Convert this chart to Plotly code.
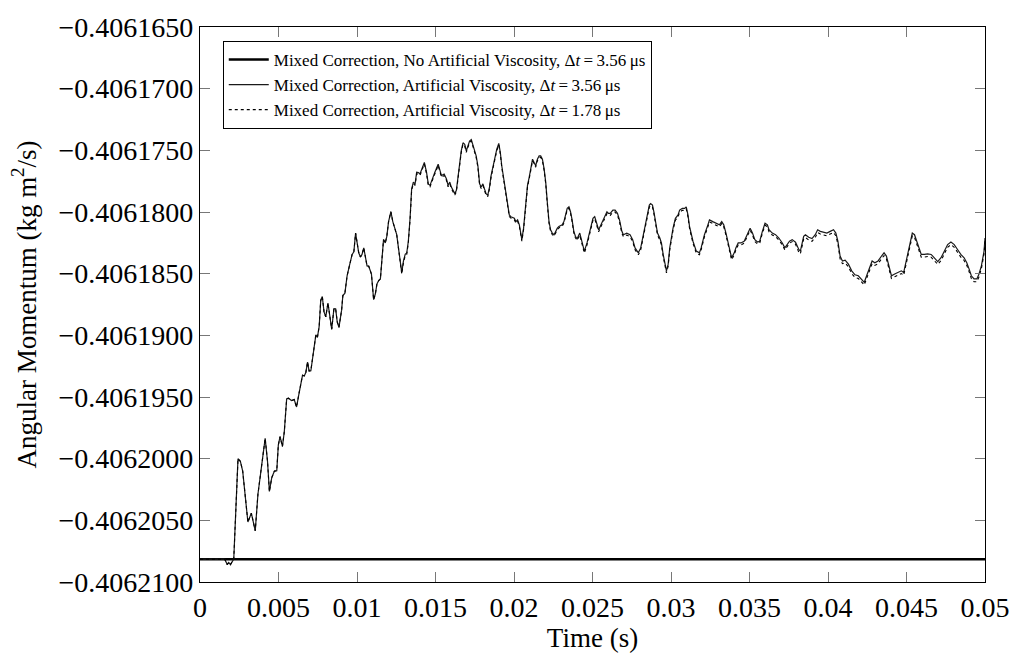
import plotly.graph_objects as go

# ---------------- data ----------------
time_s = [
    0.0, 0.00158,
    0.00173, 0.00183, 0.00194, 0.00204, 0.00215, 0.00242, 0.00257, 0.00272, 0.00289, 0.00305,
    0.00327, 0.00341, 0.00352, 0.00369, 0.00384, 0.00398, 0.00415, 0.00430, 0.00442, 0.00457,
    0.00474, 0.00489, 0.00499, 0.00510, 0.00525, 0.00537, 0.00552, 0.00563, 0.00583, 0.00600,
    0.00615, 0.00632, 0.00643, 0.00653, 0.00664, 0.00674, 0.00685, 0.00695, 0.00706, 0.00716,
    0.00727, 0.00738, 0.00748, 0.00759, 0.00769, 0.00779, 0.00790, 0.00801, 0.00815, 0.00826,
    0.00839, 0.00853, 0.00864, 0.00874, 0.00885, 0.00902, 0.00910, 0.00923, 0.00937, 0.00953,
    0.00969, 0.00980, 0.00991, 0.01001, 0.01011, 0.01022, 0.01032, 0.01043, 0.01054, 0.01064,
    0.01075, 0.01092, 0.01106, 0.01117, 0.01127, 0.01138, 0.01149, 0.01159, 0.01169, 0.01180,
    0.01190, 0.01201, 0.01216, 0.01228, 0.01239, 0.01253, 0.01264,
    0.01285, 0.01296, 0.01307, 0.01317, 0.01327, 0.01338, 0.01348, 0.01359, 0.01370, 0.01380,
    0.01391, 0.01401, 0.01412, 0.01429, 0.01443, 0.01454, 0.01465, 0.01475, 0.01496, 0.01517,
    0.01528, 0.01538, 0.01555, 0.01570, 0.01580, 0.01591, 0.01601, 0.01612, 0.01623, 0.01633,
    0.01644, 0.01654, 0.01664, 0.01675, 0.01686, 0.01696, 0.01707, 0.01717, 0.01728, 0.01738,
    0.01749, 0.01759, 0.01770, 0.01781, 0.01791, 0.01802, 0.01812, 0.01822, 0.01833, 0.01844,
    0.01854, 0.01875, 0.01890, 0.01903, 0.01913, 0.01922, 0.01934, 0.01949, 0.01960, 0.01970,
    0.01980, 0.02002, 0.02012, 0.02023, 0.02034, 0.02044, 0.02050, 0.02061, 0.02075, 0.02086,
    0.02097, 0.02107, 0.02118, 0.02128, 0.02138, 0.02149, 0.02160, 0.02170, 0.02181, 0.02192,
    0.02202, 0.02212, 0.02223, 0.02233, 0.02244, 0.02255, 0.02265, 0.02276, 0.02286, 0.02307,
    0.02318, 0.02328, 0.02339, 0.02350, 0.02360, 0.02370, 0.02381, 0.02391, 0.02402,
    0.02419, 0.02434, 0.02448, 0.02465, 0.02486, 0.02503, 0.02514, 0.02524, 0.02539, 0.02549,
    0.02571, 0.02592, 0.02602, 0.02613, 0.02630, 0.02644, 0.02659, 0.02672, 0.02687, 0.02697,
    0.02718, 0.02739, 0.02756, 0.02771, 0.02792, 0.02807, 0.02824, 0.02845, 0.02862, 0.02870,
    0.02882, 0.02891, 0.02903, 0.02914, 0.02929, 0.02939, 0.02950, 0.02960, 0.02971, 0.02982,
    0.02992, 0.03013, 0.03028, 0.03045, 0.03055, 0.03072, 0.03087, 0.03097, 0.03108, 0.03118,
    0.03140, 0.03161, 0.03181, 0.03192, 0.03213, 0.03235, 0.03245, 0.03266, 0.03287, 0.03308,
    0.03323, 0.03336, 0.03350, 0.03371, 0.03386, 0.03403, 0.03413, 0.03428, 0.03445, 0.03466,
    0.03487, 0.03504, 0.03519, 0.03534, 0.03551, 0.03565, 0.03582, 0.03599, 0.03614, 0.03624,
    0.03645, 0.03666, 0.03687, 0.03709, 0.03725, 0.03740, 0.03755, 0.03772, 0.03793,
    0.03814, 0.03824, 0.03845, 0.03856, 0.03877, 0.03898, 0.03919, 0.03934, 0.03951, 0.03972,
    0.03993, 0.04014, 0.04035, 0.04050, 0.04063, 0.04077, 0.04092, 0.04109, 0.04130, 0.04151,
    0.04172, 0.04193, 0.04214, 0.04231, 0.04246, 0.04267, 0.04281, 0.04298, 0.04319, 0.04341,
    0.04357, 0.04372, 0.04387, 0.04404, 0.04425, 0.04446, 0.04467, 0.04482, 0.04499, 0.04520,
    0.04537, 0.04551, 0.04568, 0.04583, 0.04594, 0.04614, 0.04635, 0.04657, 0.04678, 0.04699,
    0.04720, 0.04741, 0.04762, 0.04783, 0.04804, 0.04825, 0.04846, 0.04867, 0.04884, 0.04899,
    0.04913, 0.04930, 0.04948, 0.04962, 0.04977, 0.04994, 0.05000,
]

# Mixed Correction, No Artificial Viscosity, dt = 3.56 us (constant)
time_novisc = [0.0, 0.05]
am_novisc = [-0.40620815, -0.40620815]

# Mixed Correction, Artificial Viscosity, dt = 3.56 us
am_visc = [
    -0.40620815, -0.40620815,
    -0.40620859, -0.40620841, -0.40620859, -0.40620833, -0.40620815, -0.40620000, -0.40620021, -0.40620101, -0.40620314, -0.40620514,
    -0.40620442, -0.40620527, -0.40620585, -0.40620288, -0.40620128, -0.40619968, -0.40619835, -0.40620021, -0.40620266, -0.40620154,
    -0.40620101, -0.40620098, -0.40619888, -0.40619821, -0.40619901, -0.40619781, -0.40619515, -0.40619510, -0.40619529, -0.40619521,
    -0.40619581, -0.40619462, -0.40619369, -0.40619324, -0.40619329, -0.40619302, -0.40619217, -0.40619289, -0.40619287, -0.40619196,
    -0.40619062, -0.40618996, -0.40619014, -0.40618930, -0.40618717, -0.40618685, -0.40618810, -0.40618850, -0.40618738, -0.40618850,
    -0.40618951, -0.40618783, -0.40618785, -0.40618890, -0.40618935, -0.40618796, -0.40618677, -0.40618658, -0.40618517, -0.40618429,
    -0.40618344, -0.40618323, -0.40618171, -0.40618251, -0.40618331, -0.40618365, -0.40618344, -0.40618291, -0.40618357, -0.40618437,
    -0.40618440, -0.40618503, -0.40618711, -0.40618663, -0.40618583, -0.40618556, -0.40618543, -0.40618371, -0.40618224, -0.40618251,
    -0.40618197, -0.40618078, -0.40617998, -0.40618078, -0.40618117, -0.40618184, -0.40618291,
    -0.40618491, -0.40618397, -0.40618344, -0.40618331, -0.40618237, -0.40618051, -0.40617812, -0.40617758, -0.40617772, -0.40617678,
    -0.40617680, -0.40617692, -0.40617652, -0.40617598, -0.40617678, -0.40617772, -0.40617784, -0.40617744, -0.40617678, -0.40617612,
    -0.40617652, -0.40617705, -0.40617692, -0.40617732, -0.40617784, -0.40617758, -0.40617798, -0.40617824, -0.40617851, -0.40617824,
    -0.40617705, -0.40617598, -0.40617505, -0.40617439, -0.40617452, -0.40617505, -0.40617465, -0.40617425, -0.40617412, -0.40617452,
    -0.40617492, -0.40617545, -0.40617625, -0.40617772, -0.40617798, -0.40617772, -0.40617812, -0.40617851, -0.40617864, -0.40617798,
    -0.40617705, -0.40617572, -0.40617492, -0.40617444, -0.40617518, -0.40617625, -0.40617732, -0.40617864, -0.40617971, -0.40618024,
    -0.40618038, -0.40618051, -0.40618078, -0.40618064, -0.40618104, -0.40618197, -0.40618224, -0.40618131, -0.40617918, -0.40617784,
    -0.40617718, -0.40617652, -0.40617572, -0.40617598, -0.40617625, -0.40617572, -0.40617545, -0.40617545, -0.40617572, -0.40617652,
    -0.40617758, -0.40617918, -0.40618078, -0.40618144, -0.40618171, -0.40618184, -0.40618157, -0.40618131, -0.40618117, -0.40618104,
    -0.40618078, -0.40618024, -0.40617971, -0.40617958, -0.40617998, -0.40618064, -0.40618157, -0.40618197, -0.40618217,
    -0.40618171, -0.40618251, -0.40618317, -0.40618251, -0.40618144, -0.40618051, -0.40618038, -0.40618078, -0.40618144, -0.40618117,
    -0.40618051, -0.40617998, -0.40618011, -0.40618011, -0.40617984, -0.40617984, -0.40618011, -0.40618064, -0.40618157, -0.40618184,
    -0.40618171, -0.40618184, -0.40618224, -0.40618291, -0.40618331, -0.40618291, -0.40618184, -0.40618051, -0.40617944, -0.40617931,
    -0.40617944, -0.40617998, -0.40618104, -0.40618171, -0.40618211, -0.40618251, -0.40618344, -0.40618423, -0.40618477, -0.40618423,
    -0.40618291, -0.40618131, -0.40618051, -0.40618024, -0.40617984, -0.40617971, -0.40617971, -0.40617958, -0.40618024, -0.40618117,
    -0.40618237, -0.40618317, -0.40618331, -0.40618291, -0.40618184, -0.40618104, -0.40618064, -0.40618078, -0.40618091, -0.40618104,
    -0.40618078, -0.40618104, -0.40618171, -0.40618291, -0.40618371, -0.40618331, -0.40618291, -0.40618251, -0.40618251, -0.40618237,
    -0.40618184, -0.40618131, -0.40618171, -0.40618224, -0.40618243, -0.40618237, -0.40618157, -0.40618091, -0.40618104, -0.40618144,
    -0.40618171, -0.40618184, -0.40618211, -0.40618251, -0.40618291, -0.40618264, -0.40618237, -0.40618224, -0.40618245,
    -0.40618304, -0.40618317, -0.40618197, -0.40618184, -0.40618205, -0.40618216, -0.40618184, -0.40618144, -0.40618157, -0.40618163,
    -0.40618171, -0.40618157, -0.40618144, -0.40618171, -0.40618237, -0.40618357, -0.40618397, -0.40618391, -0.40618423, -0.40618477,
    -0.40618509, -0.40618517, -0.40618543, -0.40618570, -0.40618517, -0.40618437, -0.40618397, -0.40618411, -0.40618397, -0.40618357,
    -0.40618331, -0.40618357, -0.40618437, -0.40618517, -0.40618503, -0.40618491, -0.40618477, -0.40618491, -0.40618397, -0.40618264,
    -0.40618171, -0.40618184, -0.40618251, -0.40618317, -0.40618344, -0.40618344, -0.40618339, -0.40618344, -0.40618371, -0.40618403,
    -0.40618371, -0.40618317, -0.40618264, -0.40618243, -0.40618264, -0.40618304, -0.40618344, -0.40618371, -0.40618411, -0.40618463,
    -0.40618517, -0.40618543, -0.40618543, -0.40618503, -0.40618437, -0.40618317, -0.40618211,
]

# Mixed Correction, Artificial Viscosity, dt = 1.78 us
am_visc_fine = [
    -0.40620815, -0.40620815,
    -0.40620859, -0.40620841, -0.40620859, -0.40620833, -0.40620815, -0.40620000, -0.40620021, -0.40620101, -0.40620314, -0.40620514,
    -0.40620442, -0.40620527, -0.40620585, -0.40620288, -0.40620128, -0.40619968, -0.40619835, -0.40620021, -0.40620266, -0.40620154,
    -0.40620101, -0.40620098, -0.40619888, -0.40619821, -0.40619901, -0.40619781, -0.40619515, -0.40619510, -0.40619529, -0.40619521,
    -0.40619581, -0.40619462, -0.40619369, -0.40619324, -0.40619329, -0.40619302, -0.40619217, -0.40619289, -0.40619287, -0.40619196,
    -0.40619062, -0.40618996, -0.40619014, -0.40618930, -0.40618717, -0.40618685, -0.40618810, -0.40618850, -0.40618738, -0.40618850,
    -0.40618951, -0.40618783, -0.40618785, -0.40618890, -0.40618935, -0.40618796, -0.40618677, -0.40618658, -0.40618517, -0.40618429,
    -0.40618344, -0.40618323, -0.40618171, -0.40618251, -0.40618331, -0.40618365, -0.40618344, -0.40618291, -0.40618357, -0.40618437,
    -0.40618440, -0.40618503, -0.40618711, -0.40618663, -0.40618583, -0.40618556, -0.40618543, -0.40618371, -0.40618224, -0.40618251,
    -0.40618197, -0.40618078, -0.40617998, -0.40618078, -0.40618117, -0.40618184, -0.40618291,
    -0.40618503, -0.40618409, -0.40618356, -0.40618343, -0.40618249, -0.40618063, -0.40617824, -0.40617770, -0.40617784, -0.40617690,
    -0.40617692, -0.40617704, -0.40617664, -0.40617610, -0.40617690, -0.40617784, -0.40617796, -0.40617756, -0.40617690, -0.40617624,
    -0.40617664, -0.40617717, -0.40617704, -0.40617744, -0.40617796, -0.40617770, -0.40617810, -0.40617836, -0.40617863, -0.40617836,
    -0.40617717, -0.40617610, -0.40617517, -0.40617451, -0.40617464, -0.40617517, -0.40617477, -0.40617437, -0.40617424, -0.40617464,
    -0.40617504, -0.40617557, -0.40617637, -0.40617784, -0.40617810, -0.40617784, -0.40617824, -0.40617863, -0.40617876, -0.40617810,
    -0.40617717, -0.40617584, -0.40617504, -0.40617456, -0.40617530, -0.40617637, -0.40617744, -0.40617876, -0.40617983, -0.40618036,
    -0.40618050, -0.40618063, -0.40618090, -0.40618076, -0.40618116, -0.40618209, -0.40618236, -0.40618143, -0.40617930, -0.40617796,
    -0.40617730, -0.40617664, -0.40617584, -0.40617610, -0.40617637, -0.40617584, -0.40617557, -0.40617557, -0.40617584, -0.40617664,
    -0.40617770, -0.40617930, -0.40618090, -0.40618156, -0.40618183, -0.40618196, -0.40618169, -0.40618143, -0.40618129, -0.40618116,
    -0.40618090, -0.40618036, -0.40617983, -0.40617970, -0.40618010, -0.40618076, -0.40618169, -0.40618209, -0.40618229,
    -0.40618187, -0.40618267, -0.40618333, -0.40618267, -0.40618160, -0.40618067, -0.40618054, -0.40618094, -0.40618160, -0.40618133,
    -0.40618067, -0.40618014, -0.40618027, -0.40618027, -0.40618000, -0.40618000, -0.40618027, -0.40618080, -0.40618173, -0.40618200,
    -0.40618187, -0.40618200, -0.40618240, -0.40618307, -0.40618347, -0.40618307, -0.40618200, -0.40618067, -0.40617960, -0.40617947,
    -0.40617960, -0.40618014, -0.40618120, -0.40618187, -0.40618227, -0.40618267, -0.40618360, -0.40618439, -0.40618493, -0.40618439,
    -0.40618307, -0.40618147, -0.40618067, -0.40618040, -0.40618000, -0.40617987, -0.40617987, -0.40617974, -0.40618040, -0.40618133,
    -0.40618253, -0.40618333, -0.40618347, -0.40618307, -0.40618200, -0.40618120, -0.40618080, -0.40618094, -0.40618107, -0.40618120,
    -0.40618094, -0.40618120, -0.40618187, -0.40618307, -0.40618387, -0.40618347, -0.40618307, -0.40618267, -0.40618267, -0.40618253,
    -0.40618200, -0.40618147, -0.40618187, -0.40618240, -0.40618259, -0.40618253, -0.40618173, -0.40618107, -0.40618120, -0.40618160,
    -0.40618187, -0.40618200, -0.40618227, -0.40618267, -0.40618307, -0.40618280, -0.40618253, -0.40618240, -0.40618261,
    -0.40618326, -0.40618339, -0.40618219, -0.40618206, -0.40618227, -0.40618238, -0.40618206, -0.40618166, -0.40618179, -0.40618185,
    -0.40618193, -0.40618179, -0.40618166, -0.40618193, -0.40618259, -0.40618379, -0.40618419, -0.40618413, -0.40618445, -0.40618499,
    -0.40618531, -0.40618539, -0.40618565, -0.40618592, -0.40618539, -0.40618459, -0.40618419, -0.40618433, -0.40618419, -0.40618379,
    -0.40618353, -0.40618379, -0.40618459, -0.40618539, -0.40618525, -0.40618513, -0.40618499, -0.40618513, -0.40618419, -0.40618286,
    -0.40618193, -0.40618206, -0.40618273, -0.40618339, -0.40618366, -0.40618366, -0.40618361, -0.40618366, -0.40618393, -0.40618425,
    -0.40618393, -0.40618339, -0.40618286, -0.40618265, -0.40618286, -0.40618326, -0.40618366, -0.40618393, -0.40618433, -0.40618485,
    -0.40618539, -0.40618565, -0.40618565, -0.40618525, -0.40618459, -0.40618339, -0.40618233,
]

x_tickvals = [0, 0.005, 0.01, 0.015, 0.02, 0.025, 0.03, 0.035, 0.04, 0.045, 0.05]
x_ticktext = ["0", "0.005", "0.01", "0.015", "0.02", "0.025", "0.03", "0.035", "0.04", "0.045", "0.05"]
y_tickvals = [-0.406165, -0.40617, -0.406175, -0.40618, -0.406185, -0.40619,
              -0.406195, -0.4062, -0.406205, -0.40621]
y_ticktext = ["\u22120.4061650", "\u22120.4061700", "\u22120.4061750", "\u22120.4061800",
              "\u22120.4061850", "\u22120.4061900", "\u22120.4061950", "\u22120.4062000",
              "\u22120.4062050", "\u22120.4062100"]

series_names = [
    "Mixed Correction, No Artificial Viscosity, \u0394<i>t</i>\u2009=\u20093.56\u2009\u03bcs",
    "Mixed Correction, Artificial Viscosity, \u0394<i>t</i>\u2009=\u20093.56\u2009\u03bcs",
    "Mixed Correction, Artificial Viscosity, \u0394<i>t</i>\u2009=\u20091.78\u2009\u03bcs",
]

assert len(time_s) == len(am_visc) == len(am_visc_fine), (len(time_s), len(am_visc), len(am_visc_fine))

# ---------------- figure ----------------
FONT = "Liberation Serif, Times New Roman, serif"
fig = go.Figure()
fig.add_trace(go.Scatter(x=time_novisc, y=am_novisc, mode="lines", name=series_names[0],
                         line=dict(color="black", width=2.4)))
fig.add_trace(go.Scatter(x=time_s, y=am_visc, mode="lines", name=series_names[1],
                         line=dict(color="#1a1a1a", width=1.2)))
fig.add_trace(go.Scatter(x=time_s, y=am_visc_fine, mode="lines", name=series_names[2],
                         line=dict(color="black", width=1.1, dash="dot")))

fig.update_layout(
    width=1022, height=656,
    margin=dict(l=200, r=31, t=22, b=70),
    paper_bgcolor="white", plot_bgcolor="white",
    font=dict(family=FONT, color="black"),
    showlegend=True,
    legend=dict(x=0.029, y=0.975, xanchor="left", yanchor="top",
                bordercolor="black", borderwidth=1, bgcolor="white",
                font=dict(family=FONT, size=17, color="black"),
                tracegroupgap=0, itemwidth=40),
)
fig.update_xaxes(
    range=[0, 0.05], tickvals=x_tickvals, ticktext=x_ticktext,
    ticks="inside", ticklen=10, tickcolor="#777777", tickwidth=1,
    showline=True, linecolor="black", linewidth=1.3, mirror="ticks",
    showgrid=False, zeroline=False,
    tickfont=dict(family=FONT, size=28, color="black"),
    title=dict(text="Time (s)", font=dict(family=FONT, size=27, color="black"), standoff=2),
)
fig.update_yaxes(
    range=[-0.40621, -0.406165], tickvals=y_tickvals, ticktext=y_ticktext,
    ticks="inside", ticklen=10, tickcolor="#777777", tickwidth=1,
    showline=True, linecolor="black", linewidth=1.3, mirror="ticks",
    showgrid=False, zeroline=False,
    tickfont=dict(family=FONT, size=28, color="black"),
    title=dict(text="Angular Momentum (kg m<sup>2</sup>/s)", font=dict(family=FONT, size=27, color="black"), standoff=14),
)

fig.write_html("out.html")
